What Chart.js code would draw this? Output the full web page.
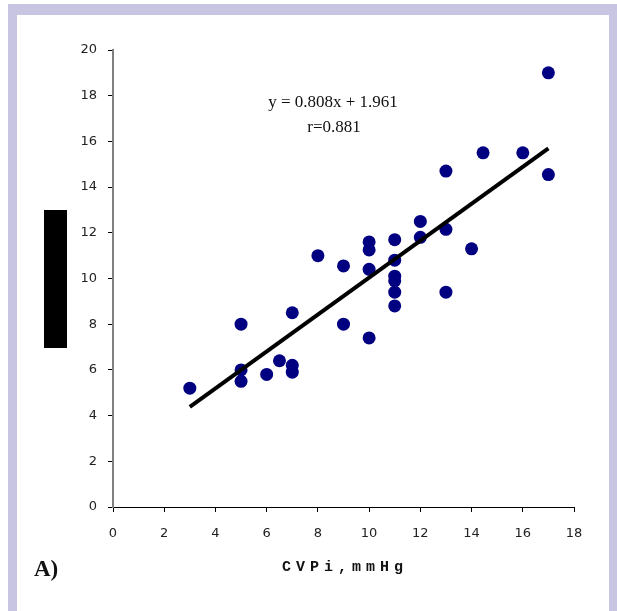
<!DOCTYPE html>
<html>
<head>
<meta charset="utf-8">
<script src="https://cdn.jsdelivr.net/npm/chart.js@4/dist/chart.umd.min.js"></script>
<style>
  html, body { margin: 0; padding: 0; background: #fff; }
  #wrap { position: relative; width: 617px; height: 611px; overflow: hidden; }
  #frame { position: absolute; left: 8px; top: 4px; width: 609px; height: 607px; background: #c8c5e2; }
  #inner { position: absolute; left: 17px; top: 15px; width: 592px; height: 596px; background: #fff; }
  #chart { position: absolute; left: 0; top: 0; }
  #ylabel-box { position: absolute; left: 44px; top: 210px; width: 23px; height: 138px; background: #000; }
  #panel { position: absolute; left: 34px; top: 556px; font: bold 23px "Liberation Serif", serif; color: #111; }
</style>
</head>
<body>
<div id="wrap">
  <div id="frame"></div>
  <div id="inner"></div>
  <canvas id="chart" width="617" height="611"></canvas>
  <div id="ylabel-box"></div>
  <div id="panel">A)</div>
</div>
<script>
  // CVPi (mmHg) vs paired measurement
  var cvpX = [3, 5, 5, 5, 6, 6.5, 7, 7, 7, 8, 9, 9, 10, 10, 10, 10,
              11, 11, 11, 11, 11, 11, 12, 12, 13, 13, 13, 14, 14.45, 16, 17, 17];
  var measY = [5.2, 8.0, 6.0, 5.5, 5.8, 6.4, 8.5, 6.2, 5.9, 11.0, 10.55, 8.0, 11.6, 11.25, 10.4, 7.4,
               11.7, 10.8, 10.1, 9.9, 9.4, 8.8, 12.5, 11.8, 14.7, 12.15, 9.4, 11.3, 15.5, 15.5, 19.0, 14.55];
  var xTicks = [0, 2, 4, 6, 8, 10, 12, 14, 16, 18];
  var yTicks = [0, 2, 4, 6, 8, 10, 12, 14, 16, 18, 20];

  // regression from the annotation
  var slope = 0.808, intercept = 1.961, rValue = 0.881;
  var fitRange = [3, 17];

  var points = cvpX.map(function (x, i) { return { x: x, y: measY[i] }; });
  var fitLine = fitRange.map(function (x) { return { x: x, y: slope * x + intercept }; });

  var annotate = {
    id: 'annotate',
    afterDraw: function (chart) {
      var ctx = chart.ctx;
      ctx.save();
      ctx.fillStyle = '#111';
      ctx.textAlign = 'center';
      ctx.textBaseline = 'middle';
      ctx.font = '17px "Liberation Serif", serif';
      ctx.fillText('y = ' + slope.toFixed(3) + 'x + ' + intercept.toFixed(3), 333, 103);
      ctx.fillText('r=' + rValue.toFixed(3), 334, 128);

      ctx.font = 'bold 15px "Liberation Mono", monospace';
      ctx.letterSpacing = '5px';
      ctx.fillText('CVPi,mmHg', 345, 567);
      ctx.restore();
    }
  };

  var tickFont = { family: '"DejaVu Sans", sans-serif', size: 13 };

  new Chart(document.getElementById('chart').getContext('2d'), {
    type: 'scatter',
    data: {
      datasets: [
        {
          type: 'line',
          data: fitLine,
          borderColor: '#000',
          borderWidth: 4,
          pointRadius: 0,
          fill: false,
          order: 0
        },
        {
          data: points,
          backgroundColor: '#000080',
          borderColor: '#000080',
          borderWidth: 0,
          pointRadius: 6.5,
          order: 1
        }
      ]
    },
    options: {
      responsive: false,
      animation: false,
      layout: { padding: { left: 73, right: 43, top: 50, bottom: 64 } },
      plugins: { legend: { display: false }, tooltip: { enabled: false } },
      scales: {
        x: {
          type: 'linear',
          min: 0, max: 18,
          afterFit: function (s) { s.height = 40; },
          afterBuildTicks: function (s) { s.ticks = xTicks.map(function (v) { return { value: v }; }); },
          border: { display: true, color: '#000', width: 1 },
          grid: { drawOnChartArea: false, drawTicks: true, tickLength: 5, tickColor: '#000' },
          ticks: { color: '#222', font: tickFont, padding: 14, maxRotation: 0 }
        },
        y: {
          type: 'linear',
          min: 0, max: 20,
          afterFit: function (s) { s.width = 40; },
          afterBuildTicks: function (s) { s.ticks = yTicks.map(function (v) { return { value: v }; }); },
          border: { display: true, color: '#808080', width: 2 },
          grid: { drawOnChartArea: false, drawTicks: true, tickLength: 5, tickColor: '#000' },
          ticks: { color: '#222', font: tickFont, padding: 11 }
        }
      }
    },
    plugins: [annotate]
  });
</script>
</body>
</html>
